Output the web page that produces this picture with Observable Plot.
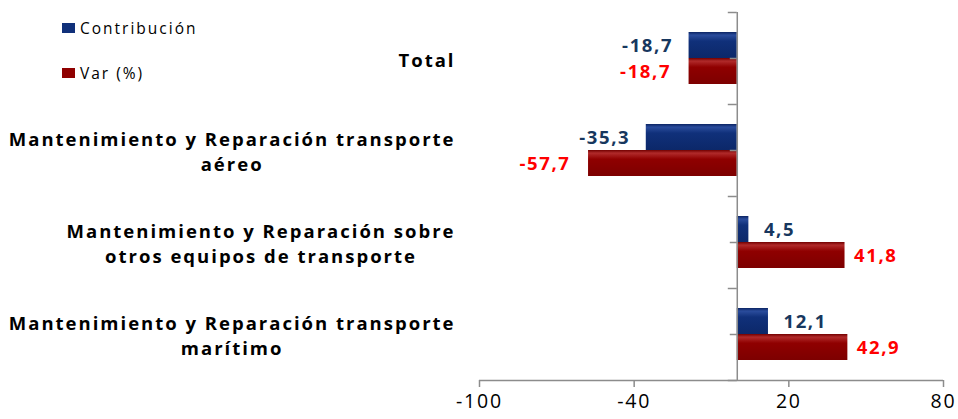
<!DOCTYPE html>
<html>
<head>
<meta charset="utf-8">
<script src="https://cdn.jsdelivr.net/npm/d3@7"></script>
<script src="https://cdn.jsdelivr.net/npm/@observablehq/plot@0.6"></script>
<style>
  body { margin: 0; background: #fff; }
  #wrap { position: relative; width: 958px; height: 419px; overflow: hidden; }
  .legend { position: absolute; left: 62px; font-family: "Open Sans", sans-serif; font-size: 15.5px; letter-spacing: 2px; color: #000; display: flex; align-items: center; }
  .legend span.sw { display: inline-block; width: 13px; height: 10px; margin-right: 5px; }
</style>
</head>
<body>
<div id="wrap"></div>
<script>
const categories = [
  "Total",
  "Mantenimiento y Reparación transporte\naéreo",
  "Mantenimiento y Reparación sobre\notros equipos de transporte",
  "Mantenimiento y Reparación transporte\nmarítimo"
];
const seriesNames = ["Contribución", "Var (%)"];
const contribucion = [-18.7, -35.3, 4.5, 12.1];
const variacion = [-18.7, -57.7, 41.8, 42.9];
const xTicks = [-100, -40, 20, 80];

const W = 958, H = 419, mTop = 12, mBottom = 39, mLeft = 479, mRight = 15;
const band = (H - mTop - mBottom) / categories.length;
const half = band / 2;

const blue = "#10307a", red = "#8f0000";
const blueText = "#17375e", redText = "#ff0000";
const axisGray = "#8c8c8c";
const font = "'Open Sans', sans-serif";

const dataC = categories.map((c, i) => ({cat: c, v: contribucion[i]}));
const dataV = categories.map((c, i) => ({cat: c, v: variacion[i]}));
const fmt = v => v.toFixed(1).replace(".", ",");
const last = categories[categories.length - 1];

const valueStyle = {fontSize: 18.5, fontWeight: "bold", ariaDescription: "values"};

const chart = Plot.plot({
  width: W, height: H,
  marginTop: mTop, marginBottom: mBottom, marginLeft: mLeft, marginRight: mRight,
  style: {fontFamily: font, background: "white"},
  x: {domain: [-100, 80], axis: null},
  y: {domain: categories, padding: 0, axis: null},
  marks: [
    Plot.barX(dataC, {x: "v", y: "cat", fill: "url(#gBlue)", insetTop: 20, insetBottom: band - 46}),
    Plot.barX(dataV, {x: "v", y: "cat", fill: "url(#gRed)", insetTop: 46, insetBottom: band - 72}),
    // y axis line and ticks
    Plot.ruleX([0], {stroke: axisGray, strokeWidth: 1.5}),
    Plot.ruleY(categories, {y: d => d, x1: 0, x2: 0, insetLeft: -9, dy: -half, stroke: axisGray, strokeWidth: 1.5}),
    Plot.ruleY([last], {y: d => d, x1: 0, x2: 0, insetLeft: -9, dy: half, stroke: axisGray, strokeWidth: 1.5}),
    Plot.ruleY(categories, {y: d => d, x1: 0, x2: 0, insetLeft: -7, stroke: axisGray, strokeWidth: 1.5}),
    // x axis line
    Plot.ruleY([last], {y: d => d, x1: -100, x2: 80, dy: half, stroke: axisGray, strokeWidth: 1.5}),
    Plot.axisX({ticks: xTicks, label: null, tickSize: 7, tickPadding: 7, fontSize: 19.5, stroke: axisGray, strokeWidth: 1.5,
      color: "#000", tickFormat: d => String(d), ariaDescription: "xticks"}),
    // category labels
    Plot.text(categories, {y: d => d, text: d => d, frameAnchor: "left", textAnchor: "end", dx: -24,
      fontSize: 18.5, fontWeight: "bold", fill: "#000", lineHeight: 1.35, ariaDescription: "catlabels"}),
    // value labels
    Plot.text(dataC.filter(d => d.v < 0), {x: "v", y: "cat", text: d => fmt(d.v), textAnchor: "end", dx: -16, dy: -12,
      fill: blueText, ...valueStyle}),
    Plot.text(dataC.filter(d => d.v >= 0), {x: "v", y: "cat", text: d => fmt(d.v), textAnchor: "start", dx: 15, dy: -12,
      fill: blueText, ...valueStyle}),
    Plot.text(dataV.filter(d => d.v < 0), {x: "v", y: "cat", text: d => fmt(d.v), textAnchor: "end", dx: -18, dy: 14,
      fill: redText, ...valueStyle}),
    Plot.text(dataV.filter(d => d.v >= 0), {x: "v", y: "cat", text: d => fmt(d.v), textAnchor: "start", dx: 9, dy: 14,
      fill: redText, ...valueStyle})
  ]
});

const wrap = document.getElementById("wrap");
wrap.appendChild(chart);

// gradients for glossy bars
const ns = "http://www.w3.org/2000/svg";
const defs = document.createElementNS(ns, "defs");
function grad(id, stops) {
  const g = document.createElementNS(ns, "linearGradient");
  g.setAttribute("id", id); g.setAttribute("x1", "0"); g.setAttribute("y1", "0"); g.setAttribute("x2", "0"); g.setAttribute("y2", "1");
  stops.forEach(([o, c]) => { const s = document.createElementNS(ns, "stop"); s.setAttribute("offset", o); s.setAttribute("stop-color", c); g.appendChild(s); });
  defs.appendChild(g);
}
grad("gBlue", [["0", "#0b2463"], ["0.12", "#2a4c9c"], ["0.35", blue], ["1", "#0c2869"]]);
grad("gRed", [["0", "#730000"], ["0.12", "#b02a2a"], ["0.35", red], ["1", "#7d0000"]]);
chart.insertBefore(defs, chart.firstChild);

// letter spacing (rendering of the original is wide)
chart.querySelectorAll('g[aria-description="catlabels"] text').forEach(t => t.style.letterSpacing = "2px");
chart.querySelectorAll('g[aria-description="values"] text').forEach(t => t.style.letterSpacing = "1.6px");
chart.querySelectorAll('g[aria-description="xticks"] text').forEach(t => t.style.letterSpacing = "1.8px");

// center multi-line category labels within their right-aligned block
chart.querySelectorAll('g[aria-description="catlabels"] text').forEach(t => {
  const w = t.getBBox().width;
  t.setAttribute("text-anchor", "middle");
  const tr = t.getAttribute("transform") || "";
  t.setAttribute("transform", tr + ` translate(${-w / 2},0)`);
});

// legend (HTML overlay)
seriesNames.forEach((name, i) => {
  const d = document.createElement("div");
  d.className = "legend";
  d.style.top = (i === 0 ? 17 : 62) + "px";
  d.innerHTML = `<span class="sw" style="background:${i === 0 ? blue : red}"></span>${name}`;
  wrap.appendChild(d);
});
</script>
</body>
</html>
